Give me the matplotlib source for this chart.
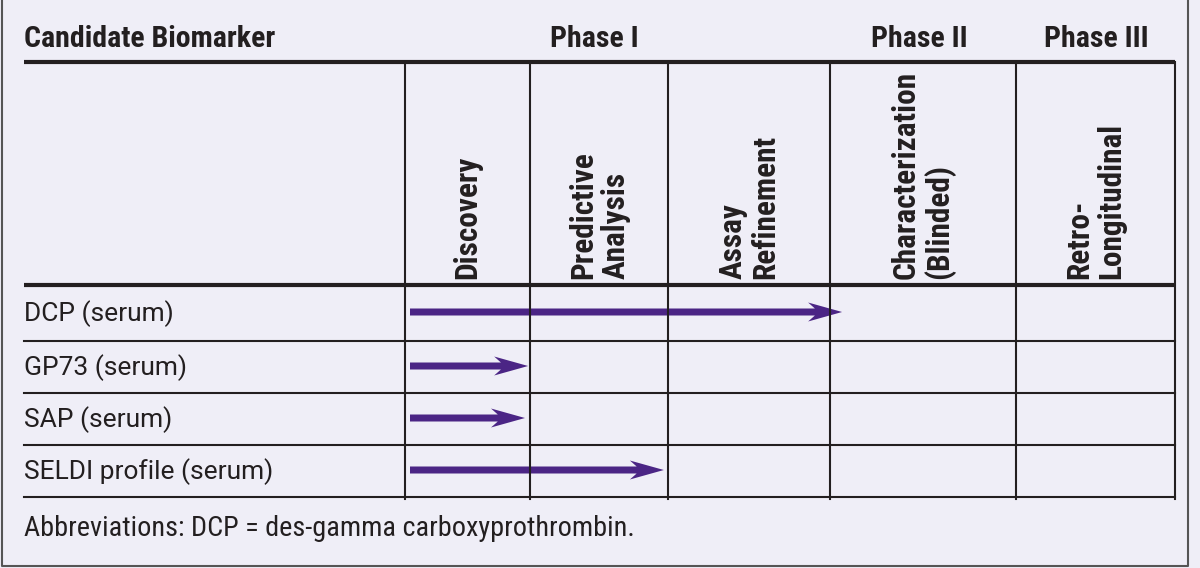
import numpy as np
import matplotlib.pyplot as plt
from matplotlib.patches import FancyArrow

# data
biomarkers = ["DCP (serum)", "GP73 (serum)", "SAP (serum)", "SELDI profile (serum)"]
stages = ["Discovery", "Predictive\nAnalysis", "Assay\nRefinement",
          "Characterization\n(Blinded)", "Retro-\nLongitudinal"]
phases = ["Phase I", "Phase II", "Phase III"]
# where each arrow starts / ends, in stage-column units
arrow_start = [0.04, 0.04, 0.04, 0.04]
arrow_end = [3.065, 0.985, 0.96, 1.97]
note = "Abbreviations: DCP = des-gamma carboxyprothrombin."

# layout (pixels)
col_x = [405, 530, 668, 830, 1016, 1175]
row_y = [285, 341, 393, 445, 497]
phase_x = [594, 919, 1096]
left = 24
top_line = 62

cond = ["Roboto Condensed", "DejaVu Sans"]
body = ["Roboto", "DejaVu Sans"]
bg = "#efeef7"
ink = "#231f20"
purple = "#4b2585"

fig = plt.figure(figsize=(12, 5.68), dpi=100, facecolor=bg)
ax = fig.add_axes([0, 0, 1, 1])
ax.set_xlim(0, 1200)
ax.set_ylim(568, 0)
ax.axis("off")

# outer frame
ax.plot([2, 2, 1188, 1188], [-5, 566, 566, -5], color="#555555", lw=1.5)

# header
ax.text(left, 39, "Candidate Biomarker", family=cond, weight="bold", fontsize=21.5,
        va="center", ha="left", color=ink)
for p, px in zip(phases, phase_x):
    ax.text(px, 39, p, family=cond, weight="bold", fontsize=21.5,
            va="center", ha="center", color=ink)

ax.plot([left, col_x[-1]], [top_line, top_line], color=ink, lw=3, solid_capstyle="butt")
ax.plot([left, col_x[-1]], [row_y[0], row_y[0]], color=ink, lw=3, solid_capstyle="butt")
for y in row_y[1:]:
    ax.plot([left, col_x[-1]], [y, y], color=ink, lw=1.5)
for x in col_x:
    ax.plot([x, x], [top_line, row_y[-1] + 2], color=ink, lw=1.5)

# rotated stage headers
for i, s in enumerate(stages):
    cx = (col_x[i] + col_x[i + 1]) / 2
    ax.text(cx, row_y[0] - 6, s, family=cond, weight="bold", fontsize=22.5,
            rotation=90, va="bottom", ha="center", ma="left",
            color=ink, linespacing=1.1)

# rows + arrows
idx = np.arange(len(col_x))
for i, name in enumerate(biomarkers):
    yc = (row_y[i] + row_y[i + 1]) / 2
    ax.text(left, yc + 1, name, family=body, fontsize=19, va="center", ha="left", color=ink)
    x0 = np.interp(arrow_start[i], idx, col_x)
    x1 = np.interp(arrow_end[i], idx, col_x)
    ax.add_patch(FancyArrow(x0, yc - 1, x1 - x0, 0, width=7, head_width=19,
                            head_length=34, length_includes_head=True, overhang=0.2,
                            color=purple, lw=0))

ax.text(left, 528, note, family=cond, fontsize=20.3, va="center", ha="left", color=ink)

fig.savefig("out.png", dpi=100, facecolor=bg)
